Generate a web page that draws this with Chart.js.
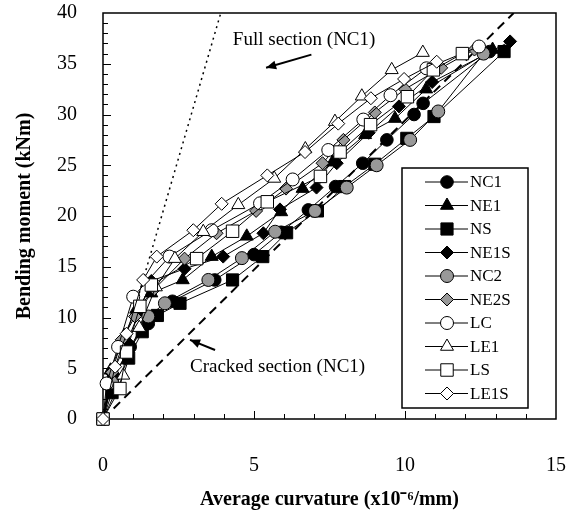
<!DOCTYPE html>
<html><head><meta charset="utf-8">
<script src="https://cdn.jsdelivr.net/npm/chart.js@4.4.0/dist/chart.umd.min.js"></script>
<style>html,body{margin:0;padding:0;background:#fff}#wrap{width:578px;height:515px;position:relative}</style>
</head><body><div id="wrap"><canvas id="c"></canvas></div>
<script>
// ---- data ----
const seriesNames = ["NC1","NE1","NS","NE1S","NC2","NE2S","LC","LE1","LS","LE1S"];
const NC1 = [[0,0],[0.35,4.2],[0.9,7.1],[1.5,9.4],[2.3,11.6],[3.7,13.7],[5.0,16.2],[5.9,18.4],[6.8,20.6],[7.7,22.9],[8.6,25.2],[9.4,27.5],[10.3,30.0],[10.6,31.1],[12.8,36.2]];
const NE1 = [[0,0],[0.25,4.8],[0.7,8.2],[1.1,10.8],[1.6,12.4],[2.64,13.7],[3.6,16.0],[4.76,18.0],[5.9,20.4],[6.61,22.7],[7.6,25.3],[8.68,28.0],[9.67,29.6],[10.7,32.5],[12.9,36.4]];
const NS = [[0,0],[0.3,2.6],[0.85,6.0],[1.3,8.6],[1.8,10.2],[2.55,11.4],[4.29,13.7],[5.29,16.0],[6.08,18.35],[7.1,20.5],[8.0,22.9],[9.0,25.1],[10.06,27.65],[10.96,29.8],[13.28,36.2]];
const NE1S = [[0,0],[0.3,4.5],[0.8,7.6],[1.2,10.6],[1.6,13.6],[2.7,14.8],[3.98,16.0],[5.31,18.3],[5.86,20.65],[7.07,22.8],[7.74,25.2],[8.8,28.2],[9.8,30.8],[10.9,33.2],[13.48,37.2]];
const NC2 = [[0,0],[0.3,3.6],[0.8,6.6],[1.5,10.1],[2.05,11.4],[3.49,13.7],[4.6,15.85],[5.7,18.45],[7.02,20.5],[8.07,22.8],[9.06,25.0],[10.17,27.5],[11.1,30.3],[12.6,36.0]];
const NE2S = [[0,0],[0.3,4.6],[0.62,7.8],[1.06,10.1],[1.7,12.8],[2.7,15.8],[3.76,18.3],[5.07,20.5],[6.06,22.7],[7.27,25.2],[7.96,27.5],[9.0,30.2],[10.0,32.5],[11.2,34.6],[12.3,36.4]];
const LC = [[0,0],[0.12,3.5],[0.5,7.1],[1.0,12.05],[2.2,16.0],[3.6,18.6],[5.2,21.25],[6.28,23.6],[7.46,26.5],[8.62,29.5],[9.52,31.9],[10.71,34.55],[12.45,36.7]];
const LE1 = [[0,0],[0.67,4.3],[1.2,9.0],[1.75,13.0],[2.38,15.8],[3.32,18.45],[4.48,21.1],[5.67,23.7],[6.7,26.6],[7.68,29.3],[8.57,31.8],[9.56,34.4],[10.59,36.1]];
const LS = [[0,0],[0.56,3.0],[0.78,6.6],[1.22,11.1],[1.6,13.2],[3.1,15.8],[4.29,18.5],[5.44,21.4],[7.2,23.9],[7.85,26.3],[8.86,29.0],[10.08,31.75],[10.94,34.4],[11.9,36.0]];
const LE1S = [[0,0],[0.4,5.15],[0.78,8.4],[1.33,13.7],[1.78,16.0],[2.99,18.6],[3.93,21.2],[5.44,24.0],[6.69,26.3],[7.79,29.1],[8.87,31.6],[9.97,33.5],[11.05,35.2]];
const fullSection = [[1.2,12.4],[3.9,40]];
const crackedSection = [[0,0],[13.6,40]];
const xTicks = [0,5,10,15];
const yTicks = [0,5,10,15,20,25,30,35,40];
const fullLabel = "Full section (NC1)";
const crackedLabel = "Cracked section (NC1)";
const xTitle = "Average curvature (x10\u207B\u2076/mm)";
const yTitle = "Bending moment (kNm)";

// ---- styles ----
const seriesData = [NC1,NE1,NS,NE1S,NC2,NE2S,LC,LE1,LS,LE1S];
const styles = [
  ['circle','#000',6.3],['triangle','#000',7.5],['rect','#000',8.6],['rectRot','#000',6.5],
  ['circle','#999',6.5],['rectRot','#999',6.5],['circle','#fff',6.5],['triangle','#fff',7.5],
  ['rect','#fff',8.8],['rectRot','#fff',6.5]
];
const SERIF = "'Liberation Serif','Times New Roman',serif";
const toXY = a => a.map(p => ({x:p[0], y:p[1]}));

const datasets = seriesData.map((d,i) => ({
  label: seriesNames[i], data: toXY(d), showLine: true, clip: false, order: 20 - i,
  borderColor:'#000', borderWidth:1, pointStyle: styles[i][0],
  pointRadius: styles[i][2], pointHoverRadius: styles[i][2],
  pointBackgroundColor: styles[i][1], pointBorderColor:'#000', pointBorderWidth:1
}));
datasets.push({label:'full', data: toXY(fullSection), showLine:true, order: 30, borderColor:'#000', borderWidth:1.5, borderDash:[2,4], pointRadius:0});
datasets.push({label:'cracked', data: toXY(crackedSection), showLine:true, order: 30, borderColor:'#000', borderWidth:2, borderDash:[9,6], pointRadius:0});

const decor = {
  id:'decor',
  beforeDatasetsDraw(chart){
    const {ctx, chartArea:a, scales:{x,y}} = chart;
    ctx.save();
    ctx.strokeStyle='#000'; ctx.lineWidth=1;
    for(let v=1; v<15; v++){ const px=Math.round(x.getPixelForValue(v))+0.5; const L = v%5===0?8:5;
      ctx.beginPath(); ctx.moveTo(px,a.bottom); ctx.lineTo(px,a.bottom-L); ctx.stroke(); }
    for(let v=1; v<40; v++){ const py=Math.round(y.getPixelForValue(v))+0.5; const L = v%5===0?8:5;
      ctx.beginPath(); ctx.moveTo(a.left,py); ctx.lineTo(a.left+L,py); ctx.stroke(); }
    ctx.strokeStyle='#000'; ctx.lineWidth=1.5;
    ctx.strokeRect(a.left, a.top, a.right-a.left, a.bottom-a.top);
    ctx.fillStyle='#000'; ctx.font = "19px "+SERIF; ctx.textBaseline='middle'; ctx.textAlign='left';
    ctx.fillText(fullLabel, x.getPixelForValue(4.3), y.getPixelForValue(37.3));
    ctx.fillText(crackedLabel, x.getPixelForValue(2.88), y.getPixelForValue(5.1));
    const arrow=(x1,y1,x2,y2)=>{
      const X1=x.getPixelForValue(x1),Y1=y.getPixelForValue(y1),X2=x.getPixelForValue(x2),Y2=y.getPixelForValue(y2);
      ctx.lineWidth=2; ctx.beginPath(); ctx.moveTo(X1,Y1); ctx.lineTo(X2,Y2); ctx.stroke();
      const ang=Math.atan2(Y2-Y1,X2-X1), h=11, w=0.42;
      ctx.beginPath(); ctx.moveTo(X2,Y2);
      ctx.lineTo(X2-h*Math.cos(ang-w),Y2-h*Math.sin(ang-w));
      ctx.lineTo(X2-h*Math.cos(ang+w),Y2-h*Math.sin(ang+w)); ctx.closePath(); ctx.fill();
    };
    arrow(6.9,35.9,5.4,34.6);
    arrow(3.71,6.8,2.88,7.8);
    ctx.restore();
  },
  afterDatasetsDraw(chart){
    const {ctx} = chart;
    ctx.save();
    ctx.strokeStyle='#000'; ctx.lineWidth=1.5;
    const x0=402, y0=168, w=126, h=240;
    ctx.fillStyle='#fff'; ctx.fillRect(x0,y0,w,h); ctx.strokeRect(x0,y0,w,h);
    ctx.font="17px "+SERIF; ctx.textBaseline='middle'; ctx.textAlign='left';
    seriesNames.forEach((name,i)=>{
      const yy = y0+14+i*23.5;
      ctx.strokeStyle='#000'; ctx.lineWidth=1;
      ctx.beginPath(); ctx.moveTo(x0+23,yy); ctx.lineTo(x0+66,yy); ctx.stroke();
      ctx.fillStyle=styles[i][1];
      Chart.helpers.drawPoint(ctx,{pointStyle:styles[i][0],radius:styles[i][2],borderWidth:1,rotation:0},x0+45,yy);
      ctx.fillStyle='#000'; ctx.fillText(name,x0+68,yy+1);
    });
    ctx.restore();
  }
};

const cfg = {
  type:'scatter',
  data:{datasets},
  options:{
    responsive:true, maintainAspectRatio:false, animation:false, events:[],
    layout:{padding:{top:13,right:22,left:0,bottom:0}, autoPadding:false},
    plugins:{legend:{display:false}, tooltip:{enabled:false}},
    scales:{
      x:{type:'linear',min:0,max:15,
        afterBuildTicks(s){ s.ticks = xTicks.map(v=>({value:v})); },
        afterFit(s){ s.height = 96; s.paddingLeft = 0; s.paddingRight = 0; },
        grid:{display:false}, border:{display:false},
        ticks:{font:{family:SERIF,size:20},color:'#000',padding:27,maxRotation:0},
        title:{display:true,text:xTitle,color:'#000',font:{family:SERIF,size:20,weight:'bold'},padding:{top:0,bottom:3}}},
      y:{type:'linear',min:0,max:40,
        afterBuildTicks(s){ s.ticks = yTicks.map(v=>({value:v})); },
        afterFit(s){ s.width = 103; s.paddingTop = 0; s.paddingBottom = 0; },
        grid:{display:false}, border:{display:false},
        ticks:{font:{family:SERIF,size:20},color:'#000',padding:18},
        title:{display:true,text:yTitle,color:'#000',font:{family:SERIF,size:20,weight:'bold'},padding:{top:13,bottom:0}}}
    }
  },
  plugins:[decor]
};
new Chart(document.getElementById('c'), cfg);
</script></body></html>
